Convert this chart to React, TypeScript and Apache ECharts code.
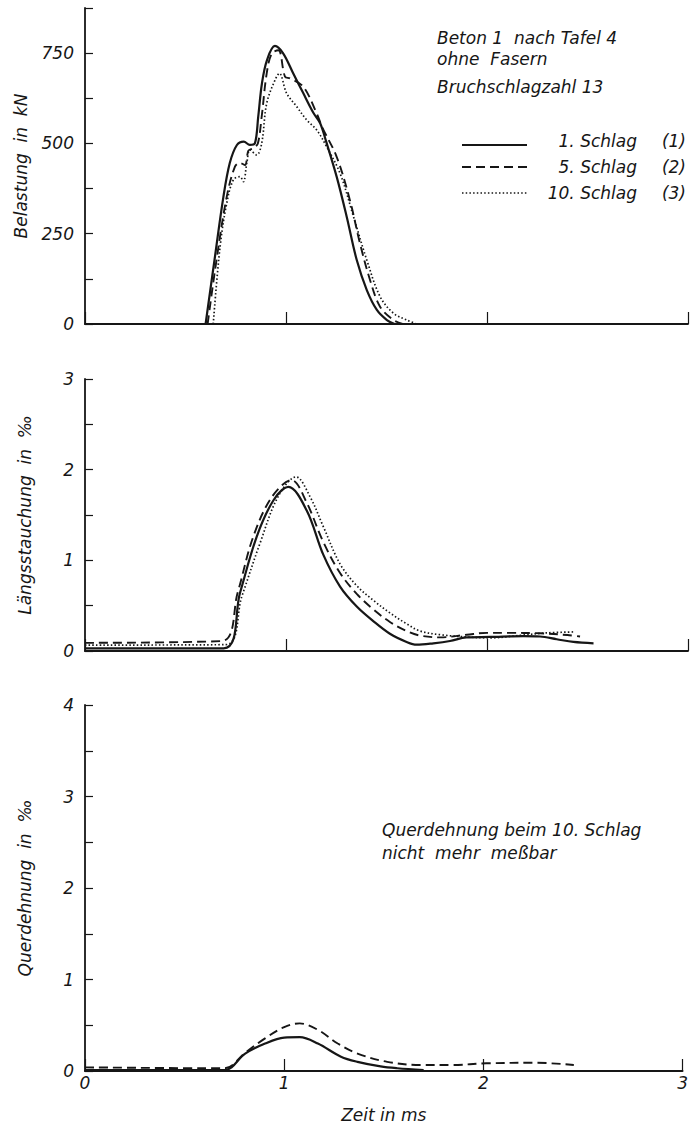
import React, { useEffect, useRef } from "react";
import * as echarts from "echarts";

// ---- Data (time in ms) ----
const seriesNames = ["1. Schlag (1)", "5. Schlag (2)", "10. Schlag (3)"];
const legendLabels = ["1. Schlag", "5. Schlag", "10. Schlag"];
const legendNumbers = ["(1)", "(2)", "(3)"];
const xTicks = [0, 1, 2, 3];

// Belastung in kN
const loadSchlag1 = [
  [0.6, 0], [0.645, 180], [0.688, 350], [0.72, 445], [0.755, 495], [0.79, 505], [0.82, 496],
  [0.845, 500], [0.862, 575], [0.88, 665], [0.905, 730], [0.945, 770], [0.985, 750],
  [1.035, 695], [1.085, 640], [1.136, 585], [1.17, 556], [1.2, 505], [1.252, 408],
  [1.302, 297], [1.352, 177], [1.402, 94], [1.452, 39], [1.502, 11], [1.54, 0],
];
const loadSchlag5 = [
  [0.61, 0], [0.655, 180], [0.705, 352], [0.746, 436], [0.771, 446], [0.796, 440],
  [0.813, 480], [0.838, 487], [0.86, 500], [0.879, 574], [0.904, 694], [0.929, 749],
  [0.962, 758], [0.995, 685], [1.02, 680], [1.086, 657], [1.153, 583], [1.18, 545],
  [1.252, 463], [1.318, 343], [1.368, 223], [1.418, 122], [1.468, 48], [1.534, 11], [1.58, 0],
];
const loadSchlag10 = [
  [0.638, 0], [0.672, 214], [0.705, 334], [0.738, 399], [0.771, 408], [0.788, 394],
  [0.805, 446], [0.821, 482], [0.854, 468], [0.879, 500], [0.904, 611], [0.945, 675],
  [0.967, 694], [1.003, 639], [1.053, 602], [1.103, 565], [1.153, 537], [1.202, 491],
  [1.269, 417], [1.336, 297], [1.402, 177], [1.468, 76], [1.534, 30], [1.601, 11], [1.65, 0],
];

// Längsstauchung in ‰
const strainSchlag1 = [
  [0, 0.03], [0.69, 0.03], [0.771, 0.64], [0.854, 1.26], [0.937, 1.66], [1.012, 1.81],
  [1.103, 1.55], [1.186, 1.06], [1.269, 0.71], [1.352, 0.49], [1.434, 0.33], [1.517, 0.19],
  [1.6, 0.1], [1.65, 0.07], [1.733, 0.085], [1.816, 0.11], [1.898, 0.15], [2.015, 0.155],
  [2.18, 0.165], [2.264, 0.16], [2.347, 0.13], [2.43, 0.1], [2.53, 0.085],
];
const strainSchlag5 = [
  [0, 0.09], [0.68, 0.11], [0.76, 0.65], [0.837, 1.26], [0.93, 1.7], [1.028, 1.885],
  [1.1, 1.65], [1.186, 1.2], [1.269, 0.86], [1.352, 0.63], [1.434, 0.46], [1.517, 0.32],
  [1.6, 0.22], [1.667, 0.17], [1.766, 0.15], [1.9, 0.18], [2.0, 0.2], [2.098, 0.2],
  [2.264, 0.195], [2.4, 0.176], [2.463, 0.16],
];
const strainSchlag10 = [
  [0, 0.065], [0.7, 0.07], [0.78, 0.6], [0.871, 1.19], [0.96, 1.7], [1.05, 1.92],
  [1.12, 1.7], [1.186, 1.37], [1.269, 0.96], [1.352, 0.72], [1.434, 0.56], [1.517, 0.42],
  [1.6, 0.3], [1.667, 0.22], [1.766, 0.18], [1.9, 0.155], [2.015, 0.145], [2.18, 0.176],
  [2.297, 0.2], [2.43, 0.21],
];

// Querdehnung in ‰
const transSchlag1 = [
  [0, 0.01], [0.7, 0.01], [0.804, 0.19], [0.904, 0.3], [1.0, 0.365], [1.078, 0.37],
  [1.169, 0.3], [1.285, 0.156], [1.368, 0.1], [1.484, 0.05], [1.567, 0.03], [1.7, 0.01],
];
const transSchlag5 = [
  [0, 0.04], [0.7, 0.03], [0.804, 0.2], [0.904, 0.357], [1.0, 0.48], [1.078, 0.52],
  [1.169, 0.45], [1.269, 0.3], [1.368, 0.19], [1.517, 0.1], [1.683, 0.066], [1.85, 0.066],
  [2.015, 0.084], [2.264, 0.09], [2.454, 0.066],
];

const INK = "#161616";
const FONT = "'DejaVu Sans', 'Liberation Sans', sans-serif";
const FS = 17;

const lineStyles = [
  { color: INK, width: 2.2, type: "solid" as any },
  { color: INK, width: 1.9, type: [9, 5] as any },
  { color: INK, width: 1.7, type: [1.5, 2.2] as any },
];

export default function App() {
  const ref = useRef<HTMLDivElement>(null);

  useEffect(() => {
    if (!ref.current) return;
    const chart = echarts.init(ref.current, undefined, { renderer: "svg" });

    const grids = [
      { left: 85, width: 603, top: 8, height: 316 },
      { left: 85, width: 603, top: 379, height: 272 },
      { left: 85, width: 603, top: 705, height: 366 },
    ];

    const labelStyle = {
      fontFamily: FONT,
      fontStyle: "italic" as const,
      fontSize: FS,
      color: INK,
    };

    const xAxes = grids.map((_, i) => ({
      gridIndex: i,
      type: "value" as const,
      min: xTicks[0],
      max: xTicks[xTicks.length - 1],
      interval: 1,
      axisLine: { lineStyle: { color: INK, width: 1.8 } },
      axisTick: { inside: true, length: 12, lineStyle: { color: INK, width: 1.2 } },
      axisLabel: { show: i === 2, margin: 3, ...labelStyle },
      splitLine: { show: false },
      name: i === 2 ? "Zeit in ms" : "",
      nameLocation: "middle" as const,
      nameGap: 35,
      nameTextStyle: { ...labelStyle },
    }));

    const yDefs = [
      { max: 875, interval: 125, major: 250, name: "Belastung  in  kN", gap: 56 },
      { max: 3, interval: 0.5, major: 1, name: "Längsstauchung  in  ‰", gap: 52 },
      { max: 4, interval: 0.5, major: 1, name: "Querdehnung  in  ‰", gap: 52 },
    ];

    const yAxes = yDefs.map((d, i) => ({
      gridIndex: i,
      type: "value" as const,
      min: 0,
      max: d.max,
      interval: d.interval,
      axisLine: { show: true, lineStyle: { color: INK, width: 1.8 } },
      axisTick: { show: true, inside: true, length: 8, lineStyle: { color: INK, width: 1.2 } },
      axisLabel: {
        margin: 11,
        ...labelStyle,
        formatter: (v: number) => (Math.abs(v / d.major - Math.round(v / d.major)) < 1e-9 ? String(v) : ""),
      },
      splitLine: { show: false },
      name: d.name,
      nameLocation: "middle" as const,
      nameRotate: 90,
      nameGap: d.gap,
      nameTextStyle: { ...labelStyle },
    }));

    const mk = (name: string, data: number[][], idx: number, styleIdx: number) => ({
      type: "line" as const,
      name,
      xAxisIndex: idx,
      yAxisIndex: idx,
      data,
      showSymbol: false,
      symbol: "none",
      smooth: 0.35,
      lineStyle: lineStyles[styleIdx],
      z: 3,
    });

    const series = [
      mk(seriesNames[0], loadSchlag1, 0, 0),
      mk(seriesNames[1], loadSchlag5, 0, 1),
      mk(seriesNames[2], loadSchlag10, 0, 2),
      mk(seriesNames[0], strainSchlag1, 1, 0),
      mk(seriesNames[1], strainSchlag5, 1, 1),
      mk(seriesNames[2], strainSchlag10, 1, 2),
      mk(seriesNames[0], transSchlag1, 2, 0),
      mk(seriesNames[1], transSchlag5, 2, 1),
    ];

    const textFont = `italic ${FS}px ${FONT}`;
    const txt = (text: string, x: number, y: number, align = "left") => ({
      type: "text" as const,
      style: {
        text,
        x,
        y,
        font: textFont,
        fill: INK,
        align,
        verticalAlign: "middle",
        textAlign: align,
        textVerticalAlign: "middle",
      },
    });

    const legendRows = [141, 167, 193];
    const legendLineY = [145, 167, 193];
    const legendGraphics: any[] = [];
    legendRows.forEach((y, i) => {
      legendGraphics.push({
        type: "line",
        shape: { x1: 462, y1: legendLineY[i], x2: 527, y2: legendLineY[i] },
        style: {
          stroke: INK,
          lineWidth: lineStyles[i].width,
          lineDash: i === 0 ? null : (lineStyles[i].type as number[]),
        },
      });
      legendGraphics.push(txt(legendLabels[i], 637, y, "right"));
      legendGraphics.push(txt(legendNumbers[i], 686, y, "right"));
    });

    chart.setOption({
      animation: false,
      backgroundColor: "#ffffff",
      grid: grids,
      xAxis: xAxes,
      yAxis: yAxes,
      series,
      graphic: [
        txt("Beton 1  nach Tafel 4", 437, 38),
        txt("ohne  Fasern", 437, 59),
        txt("Bruchschlagzahl 13", 437, 87),
        ...legendGraphics,
        txt("Querdehnung beim 10. Schlag", 382, 830),
        txt("nicht  mehr  meßbar", 382, 853),
      ],
    });

    return () => chart.dispose();
  }, []);

  return (
    <div
      ref={ref}
      style={{ position: "absolute", left: 0, top: 0, width: 691, height: 1126, background: "#fff" }}
    />
  );
}
